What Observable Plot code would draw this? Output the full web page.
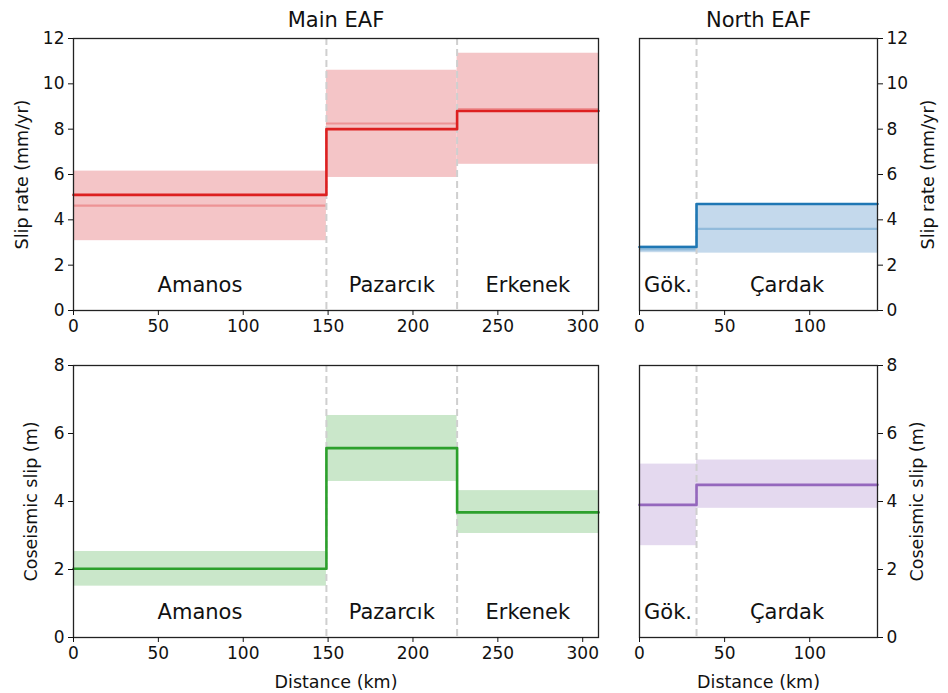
<!DOCTYPE html>
<html>
<head>
<meta charset="utf-8">
<script src="https://cdn.jsdelivr.net/npm/d3@7"></script>
<script src="https://cdn.jsdelivr.net/npm/@observablehq/plot@0.6"></script>
<style>
  html, body { margin: 0; padding: 0; background: #fff; }
  #wrap { position: relative; width: 948px; height: 693px; font-family: "DejaVu Sans", sans-serif; }
  #wrap svg { position: absolute; overflow: visible; }
</style>
</head>
<body>
<div id="wrap"></div>
<script>
// ---- Data ----
// Main EAF segments
const mainSegments = ["Amanos", "Pazarcık", "Erkenek"];
const mainStart = [0, 149, 226];
const mainEnd = [149, 226, 309.3];
const mainSlipRateBest = [5.1, 8.0, 8.8];
const mainSlipRateMedian = [4.63, 8.25, 8.88];
const mainSlipRateLow = [3.08, 5.87, 6.45];
const mainSlipRateHigh = [6.15, 10.6, 11.35];
const mainCoseismic = [2.02, 5.57, 3.68];
const mainCoseismicLow = [1.51, 4.59, 3.06];
const mainCoseismicHigh = [2.53, 6.53, 4.32];

// North EAF segments
const northSegments = ["Gök.", "Çardak"];
const northStart = [0, 33.5];
const northEnd = [33.5, 139.8];
const northSlipRateBest = [2.8, 4.7];
const northSlipRateMedian = [2.7, 3.6];
const northSlipRateLow = [2.55, 2.53];
const northSlipRateHigh = [2.85, 4.7];
const northCoseismic = [3.9, 4.49];
const northCoseismicLow = [2.7, 3.8];
const northCoseismicHigh = [5.1, 5.22];

const slipRateTicks = [0, 2, 4, 6, 8, 10, 12];
const coseismicTicks = [0, 2, 4, 6, 8];
const mainXTicks = [0, 50, 100, 150, 200, 250, 300];
const northXTicks = [0, 50, 100];

const colors = {
  red: "#dd2020", redBand: "#f4c5c7",
  blue: "#1f77b4", blueBand: "#c4d9ec",
  green: "#2ca02c", greenBand: "#cae7ca",
  purple: "#9467bd", purpleBand: "#e4d9ef"
};

function rows(names, start, end, best, low, high, median) {
  return names.map((n, i) => ({
    name: n, x1: start[i], x2: end[i], best: best[i], low: low[i], high: high[i],
    median: median ? median[i] : null, mid: (start[i] + end[i]) / 2
  }));
}
function stepPoints(r) {
  const pts = r.map(d => ({x: d.x1, y: d.best}));
  pts.push({x: r[r.length - 1].x2, y: r[r.length - 1].best});
  return pts;
}

function panel(opts) {
  const {data, xDomain, xTicks, yDomain, yTicks, yLabel, yLabelDx, side, color, band, title,
         width, height, margins, xLabel} = opts;
  const marks = [
    Plot.rect(data, {x1: "x1", x2: "x2", y1: "low", y2: "high", fill: band}),
  ];
  if (data[0].median != null) {
    marks.push(Plot.ruleY(data, {y: "median", x1: "x1", x2: "x2", stroke: color, strokeOpacity: 0.3, strokeWidth: 2.2}));
  }
  marks.push(
    Plot.ruleX(data.slice(1), {x: "x1", stroke: "#cfcfcf", strokeWidth: 2, strokeDasharray: "7,4"}),
    Plot.line(stepPoints(data), {x: "x", y: "y", curve: "step-after", stroke: color, strokeWidth: 2.6}),
    Plot.text(data, {x: "mid", text: "name", frameAnchor: "bottom", lineAnchor: "middle", dy: -25, fontSize: 21, fill: "#111"}),
    Plot.frame({stroke: "#222", strokeWidth: 1.3}),
    Plot.axisX({ticks: xTicks, tickSize: 5, tickPadding: 4, fontSize: 17, label: null, color: "#111"}),
    Plot.axisY({ticks: yTicks, anchor: side, tickSize: 5, tickPadding: 4, fontSize: 17, label: null, color: "#111",
                tickFormat: d3.format("d")}),
    Plot.text([yLabel], {text: d => d, frameAnchor: side, rotate: -90, dx: yLabelDx,
                         textAnchor: "middle", lineAnchor: "middle", fontSize: 17.5, fill: "#111"})
  );
  if (xLabel) {
    marks.push(Plot.text([xLabel], {text: d => d, frameAnchor: "bottom", dy: 45, lineAnchor: "middle", fontSize: 17.5, fill: "#111"}));
  }
  if (title) {
    marks.push(Plot.text([title], {frameAnchor: "top", dy: -18, lineAnchor: "middle", fontSize: 21, fill: "#111", text: d => d}));
  }
  return Plot.plot({
    width, height,
    marginLeft: margins[0], marginRight: margins[1], marginTop: margins[2], marginBottom: margins[3],
    style: {fontFamily: "DejaVu Sans, sans-serif", fontSize: "17px", color: "#111", background: "transparent"},
    x: {domain: xDomain, label: null},
    y: {domain: yDomain, label: null},
    marks
  });
}

const wrap = document.getElementById("wrap");
function place(svg, left, top) {
  svg.style.left = left + "px";
  svg.style.top = top + "px";
  wrap.appendChild(svg);
}

const tl = panel({
  data: rows(mainSegments, mainStart, mainEnd, mainSlipRateBest, mainSlipRateLow, mainSlipRateHigh, mainSlipRateMedian),
  xDomain: [0, 309.3], xTicks: mainXTicks, yDomain: [0, 12], yTicks: slipRateTicks,
  yLabel: "Slip rate (mm/yr)", yLabelDx: -51, side: "left", color: colors.red, band: colors.redBand, title: "Main EAF",
  width: 620, height: 345, margins: [73, 22, 38, 35]
});
place(tl, 0, 0);

const tr = panel({
  data: rows(northSegments, northStart, northEnd, northSlipRateBest, northSlipRateLow, northSlipRateHigh, northSlipRateMedian),
  xDomain: [0, 139.8], xTicks: northXTicks, yDomain: [0, 12], yTicks: slipRateTicks,
  yLabel: "Slip rate (mm/yr)", yLabelDx: 51, side: "right", color: colors.blue, band: colors.blueBand, title: "North EAF",
  width: 328, height: 345, margins: [19, 71, 38, 35]
});
place(tr, 620, 0);

const bl = panel({
  data: rows(mainSegments, mainStart, mainEnd, mainCoseismic, mainCoseismicLow, mainCoseismicHigh, null),
  xDomain: [0, 309.3], xTicks: mainXTicks, yDomain: [0, 8], yTicks: coseismicTicks,
  yLabel: "Coseismic slip (m)", yLabelDx: -42, side: "left", color: colors.green, band: colors.greenBand,
  xLabel: "Distance (km)",
  width: 620, height: 348, margins: [73, 22, 20, 56]
});
place(bl, 0, 345);

const br = panel({
  data: rows(northSegments, northStart, northEnd, northCoseismic, northCoseismicLow, northCoseismicHigh, null),
  xDomain: [0, 139.8], xTicks: northXTicks, yDomain: [0, 8], yTicks: coseismicTicks,
  yLabel: "Coseismic slip (m)", yLabelDx: 40, side: "right", color: colors.purple, band: colors.purpleBand,
  xLabel: "Distance (km)",
  width: 328, height: 348, margins: [19, 71, 20, 56]
});
place(br, 620, 345);
</script>
</body>
</html>
